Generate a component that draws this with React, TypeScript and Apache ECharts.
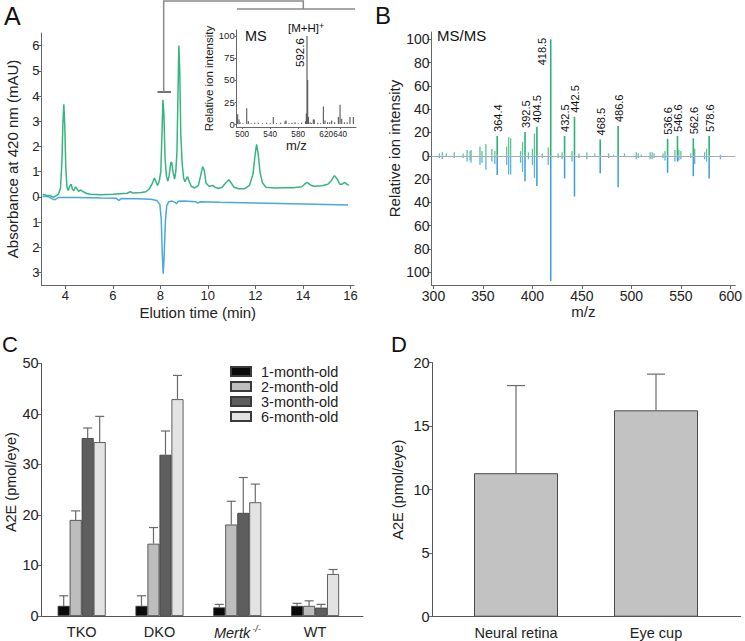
import React, { useEffect, useRef } from 'react';
import * as echarts from 'echarts';

const FONT = 'Liberation Sans, Arial, Helvetica, sans-serif';
const TXT = '#222';
const AX = '#666';

// ---------- Panel A: chromatograms ----------
const greenTime = [3.05, 3.2, 3.35, 3.5, 3.62, 3.72, 3.8, 3.86, 3.9, 3.94, 3.98, 4.02, 4.07, 4.12, 4.2, 4.25, 4.3, 4.36, 4.44, 4.5, 4.56, 4.65, 4.72, 4.8, 4.9, 5.05, 5.5, 6.0, 6.3, 6.6, 6.74, 6.85, 7.2, 7.4, 7.55, 7.65, 7.75, 7.82, 7.88, 7.95, 8.02, 8.07, 8.11, 8.15, 8.2, 8.26, 8.32, 8.38, 8.44, 8.48, 8.53, 8.6, 8.65, 8.7, 8.74, 8.78, 8.82, 8.86, 8.92, 8.98, 9.03, 9.1, 9.15, 9.22, 9.3, 9.45, 9.6, 9.7, 9.78, 9.85, 9.92, 10.05, 10.2, 10.3, 10.45, 10.6, 10.75, 10.88, 10.98, 11.1, 11.3, 11.55, 11.75, 11.9, 11.98, 12.05, 12.12, 12.2, 12.3, 12.45, 12.8, 13.2, 13.6, 13.95, 14.1, 14.18, 14.3, 14.45, 14.8, 15.05, 15.2, 15.33, 15.45, 15.55, 15.65, 15.75, 15.85, 15.93];
const greenAbs = [0.1, 0.06, 0.05, -0.02, 0.05, 0.12, 0.35, 1.4, 2.9, 3.67, 2.8, 1.2, 0.4, 0.25, 0.45, 0.5, 0.3, 0.24, 0.4, 0.3, 0.22, 0.27, 0.22, 0.18, 0.13, 0.1, 0.08, 0.1, 0.12, 0.14, 0.2, 0.15, 0.17, 0.2, 0.33, 0.5, 0.75, 0.6, 0.45, 0.6, 1.0, 2.5, 3.85, 3.3, 1.5, 0.8, 0.62, 0.9, 1.35, 1.38, 1.0, 0.7, 1.0, 1.8, 3.9, 6.0, 4.9, 2.5, 1.3, 0.75, 0.6, 0.72, 0.8, 0.6, 0.42, 0.35, 0.45, 0.85, 1.2, 1.05, 0.55, 0.42, 0.45, 0.38, 0.33, 0.38, 0.55, 0.68, 0.55, 0.38, 0.32, 0.32, 0.45, 0.9, 1.6, 2.08, 1.7, 0.95, 0.55, 0.38, 0.35, 0.36, 0.36, 0.4, 0.52, 0.57, 0.48, 0.42, 0.44, 0.5, 0.65, 0.84, 0.7, 0.5, 0.5, 0.57, 0.5, 0.45];
const blueTime = [3.05, 3.3, 3.45, 3.55, 3.7, 4.5, 5.5, 6.15, 6.25, 6.35, 7.0, 7.6, 7.85, 7.98, 8.04, 8.08, 8.12, 8.16, 8.21, 8.27, 8.35, 8.5, 8.62, 8.68, 8.75, 9.0, 9.5, 9.58, 9.66, 10.5, 12.0, 13.5, 15.0, 15.9];
const blueAbs = [0.02, 0.0, -0.08, -0.12, -0.03, -0.03, -0.05, -0.06, -0.15, -0.07, -0.08, -0.1, -0.15, -0.3, -0.9, -2.2, -3.05, -2.4, -1.0, -0.35, -0.2, -0.17, -0.22, -0.28, -0.18, -0.17, -0.2, -0.25, -0.2, -0.22, -0.25, -0.28, -0.31, -0.33];
const aXTicks = [4, 6, 8, 10, 12, 14, 16];
const aYTicks = [-3, -2, -1, 0, 1, 2, 3, 4, 5, 6];

// ---------- Panel A inset: MS ----------
const msMz = [493.6, 495.5, 497, 501, 506.5, 508.8, 513, 518, 523, 529, 535, 540, 544.5, 549, 555, 561.2, 562.6, 567, 571, 575.5, 580, 585, 590.6, 591.6, 592.6, 593.6, 594.6, 597, 599, 601.6, 603, 608, 612, 616, 618.3, 622, 625, 627.9, 632, 637.4, 639.8, 642.2, 646, 650, 654, 658.8];
const msInt = [11, 5, 2, 1, 18, 3, 1, 1.5, 1.5, 1, 1.5, 1, 8, 1, 1.5, 3, 4, 1, 1.5, 2, 1, 1.5, 3, 12, 100, 50, 8, 2, 1, 5, 5, 1.5, 1, 20, 4, 2, 2, 4, 2, 8, 22, 6, 2, 2, 8, 8];
const msXTicks = [500, 540, 580, 620, 640];
const msYTicks = [0, 25, 50, 75, 100];
const msLabelMz = 592.6;

// ---------- Panel B: MS/MS ----------
const msmsPeakMz = [364.4, 392.5, 404.5, 418.5, 432.5, 442.5, 468.5, 486.6, 536.6, 546.6, 562.6, 578.6];
const msmsPeakUp = [17, 20.5, 25, 100, 17, 33.5, 14, 25.5, 14.6, 17, 15, 17];
const msmsPeakDown = [16.6, 21.8, 26, 107.5, 19.5, 35, 15, 27, 14.6, 5, 17.5, 19.5];
const msmsMinorMz = [306, 309, 313, 321, 330, 334, 337, 338, 347, 349, 353, 359, 362, 374, 376, 378, 388, 390, 396, 400, 402, 410, 416, 426, 430, 440, 447, 455, 463, 477, 482, 493, 505, 507, 510, 519, 521, 523, 532, 534, 544, 548, 550, 560, 564, 574, 576, 590];
const msmsMinorUp = [2, 3, 2, 3, 2, 5, 4, 5, 8, 4, 10, 6, 4, 8, 16, 15, 4, 12, 3, 6, 19, 2, 7, 2, 3, 4, 2, 3, 2, 2, 1, 2, 3, 2, 1, 3, 3, 2, 2, 4, 5, 5, 4, 2, 6, 3, 6, 1];
const msmsMinorDown = [2, 3, 1, 2, 2, 5, 4, 6, 8, 6, 12, 5, 7, 8, 16, 16, 6, 14, 3, 8, 19, 2, 8, 2, 3, 5, 2, 3, 1, 2, 1, 1, 3, 2, 1, 3, 3, 2, 2, 4, 5, 4, 3, 2, 7, 3, 5, 3];
const bXTicks = [300, 350, 400, 450, 500, 550, 600];
const bYTicks = [-100, -80, -60, -40, -20, 0, 20, 40, 60, 80, 100];

// ---------- Panel C: A2E by genotype and age ----------
const genotypes = ['TKO', 'DKO', 'Mertk', 'WT'];
const ageNames = ['1-month-old', '2-month-old', '3-month-old', '6-month-old'];
const a2eMonth1 = [2.0, 2.0, 1.7, 2.0];
const a2eMonth1Top = [4.0, 4.0, 2.3, 2.5];
const a2eMonth2 = [19.0, 14.3, 18.1, 2.0];
const a2eMonth2Top = [20.8, 17.5, 22.7, 3.0];
const a2eMonth3 = [35.2, 31.9, 20.4, 1.65];
const a2eMonth3Top = [37.2, 36.6, 27.4, 2.3];
const a2eMonth6 = [34.4, 42.9, 22.5, 8.3];
const a2eMonth6Top = [39.5, 47.6, 26.1, 9.2];
const ageColors = ['#0a0a0a', '#bdbdbd', '#5e5e5e', '#e3e3e3'];

// ---------- Panel D: A2E by tissue ----------
const tissues = ['Neural retina', 'Eye cup'];
const tissueA2E = [11.3, 16.25];
const tissueA2ETop = [18.2, 19.1];

const zip = (a: number[], b: number[]) => a.map((v, i) => [v, b[i]]);

function stick(color: string, width: number) {
  return (_p: any, api: any) => {
    const x = api.value(0);
    const y = api.value(1);
    const p0 = api.coord([x, 0]);
    const p1 = api.coord([x, y]);
    return {
      type: 'line',
      shape: { x1: p0[0], y1: p0[1], x2: p1[0], y2: p1[1] },
      style: { stroke: color, lineWidth: width },
    };
  };
}

function errBar(offset: number, capHalf: number) {
  return (_p: any, api: any) => {
    const i = api.value(0);
    const v = api.value(1);
    const t = api.value(2);
    const p = api.coord([i, v]);
    const q = api.coord([i, t]);
    const x = p[0] + offset;
    const st = { stroke: '#6a6a6a', lineWidth: 1.2 };
    return {
      type: 'group',
      children: [
        { type: 'line', shape: { x1: x, y1: p[1], x2: x, y2: q[1] }, style: st },
        { type: 'line', shape: { x1: x - capHalf, y1: q[1], x2: x + capHalf, y2: q[1] }, style: st },
      ],
    };
  };
}

const absFmt = (v: number) => String(Math.abs(v));

function valAxis(extra: any) {
  const base: any = {
    type: 'value',
    splitLine: { show: false },
    axisLine: { show: true, onZero: false, lineStyle: { color: AX, width: 1 } },
    axisTick: { show: true, length: 4, lineStyle: { color: AX } },
    axisLabel: { color: TXT, fontFamily: FONT, fontSize: 13, margin: 3, hideOverlap: false },
    nameLocation: 'middle',
    nameTextStyle: { color: TXT, fontFamily: FONT, fontSize: 15 },
  };
  const out: any = { ...base, ...extra };
  out.axisLine = { ...base.axisLine, ...(extra.axisLine || {}) };
  out.axisTick = { ...base.axisTick, ...(extra.axisTick || {}) };
  out.axisLabel = { ...base.axisLabel, ...(extra.axisLabel || {}) };
  out.nameTextStyle = { ...base.nameTextStyle, ...(extra.nameTextStyle || {}) };
  return out;
}

export default function App() {
  const ref = useRef<HTMLDivElement>(null);
  useEffect(() => {
    if (!ref.current) return;
    const chart = echarts.init(ref.current, undefined, { renderer: 'svg' });

    const monthVals = [a2eMonth1, a2eMonth2, a2eMonth3, a2eMonth6];
    const monthTops = [a2eMonth1Top, a2eMonth2Top, a2eMonth3Top, a2eMonth6Top];
    const barW = 12;

    const option: any = {
      animation: false,
      backgroundColor: '#fff',
      textStyle: { fontFamily: FONT },
      grid: [
        { left: 41.5, top: 33, width: 312.5, height: 252 },
        { left: 236.7, top: 30, width: 119.3, height: 97 },
        { left: 431.5, top: 32, width: 307, height: 253 },
        { left: 41.7, top: 363.3, width: 321.3, height: 252.7 },
        { left: 432.7, top: 362.7, width: 308, height: 254 },
      ],
      xAxis: [
        valAxis({
          gridIndex: 0, min: 3, max: 16.15,
          axisTick: { customValues: aXTicks },
          axisLabel: { customValues: aXTicks, margin: 4 },
          name: 'Elution time (min)', nameGap: 20,
        }),
        valAxis({
          gridIndex: 1, min: 492.2, max: 662.6,
          axisTick: { customValues: msXTicks, length: 2 },
          axisLabel: { customValues: msXTicks, fontSize: 8.2, margin: 3, showMinLabel: true, showMaxLabel: true },
          name: 'm/z', nameGap: 10, nameTextStyle: { fontSize: 13 },
        }),
        valAxis({
          gridIndex: 2, min: 298, max: 605,
          axisTick: { customValues: bXTicks },
          axisLabel: { customValues: bXTicks, fontSize: 14, margin: 4 },
          name: 'm/z', nameGap: 19,
        }),
        valAxis({
          gridIndex: 3, min: -0.514, max: 3.616,
          axisTick: { show: false },
          axisLabel: {
            customValues: [0, 1, 2, 3], fontSize: 14.5, margin: 8,
            formatter: (v: number) => (v === 2 ? '{it|Mertk}{sp|-/-}' : genotypes[v]),
            rich: {
              it: { fontStyle: 'italic', fontSize: 14.5, fontFamily: FONT, color: TXT, lineHeight: 18 },
              sp: { fontStyle: 'italic', fontSize: 9, fontFamily: FONT, color: TXT, verticalAlign: 'top', lineHeight: 18, padding: [0, 0, 0, 2] },
            },
          },
          axisLine: { lineStyle: { color: '#555' } },
        }),
        valAxis({
          gridIndex: 4, min: -0.595, max: 1.605,
          axisTick: { show: false },
          axisLabel: { customValues: [0, 1], fontSize: 14.5, margin: 9, formatter: (v: number) => tissues[v] },
          axisLine: { lineStyle: { color: '#555' } },
        }),
      ],
      yAxis: [
        valAxis({
          gridIndex: 0, min: -3.5, max: 6.5,
          axisTick: { customValues: aYTicks },
          axisLabel: { customValues: aYTicks, formatter: absFmt, margin: 2 },
          name: 'Absorbance at 420 nm (mAU)', nameGap: 22,
        }),
        valAxis({
          gridIndex: 1, min: -3.4, max: 106.8,
          axisTick: { customValues: msYTicks, length: 2 },
          axisLabel: { customValues: msYTicks, fontSize: 9.5, margin: 2 },
          name: 'Relative ion intensity', nameGap: 18, nameTextStyle: { fontSize: 11.5 },
        }),
        valAxis({
          gridIndex: 2, min: -111, max: 106.3,
          axisTick: { customValues: bYTicks },
          axisLabel: { customValues: bYTicks, formatter: absFmt, fontSize: 14, margin: 2 },
          name: 'Relative ion intensity', nameGap: 29, nameTextStyle: { padding: [0, 0, 0, 20] },
        }),
        valAxis({
          gridIndex: 3, min: 0, max: 50, interval: 10,
          axisLabel: { fontSize: 14.5, margin: 3 },
          axisLine: { lineStyle: { color: '#555' } },
          name: 'A2E (pmol/eye)', nameGap: 16, nameTextStyle: { fontSize: 14.5, padding: [0, 0, 0, 15] },
        }),
        valAxis({
          gridIndex: 4, min: 0, max: 20, interval: 5,
          axisLabel: { fontSize: 14.5, margin: 3 },
          axisLine: { lineStyle: { color: '#555' } },
          name: 'A2E (pmol/eye)', nameGap: 27, nameTextStyle: { fontSize: 14.5 },
        }),
      ],
      legend: {
        data: ageNames,
        orient: 'vertical',
        left: 230,
        top: 364,
        padding: 0,
        itemWidth: 20,
        itemHeight: 9,
        itemGap: 0,
        icon: 'rect',
        selectedMode: false,
        textStyle: { fontSize: 14.5, color: TXT, fontFamily: FONT, padding: [0, 0, 0, 5], lineHeight: 15 },
      },
      graphic: [
        { type: 'text', left: 4, top: 3, style: { text: 'A', fontSize: 25, fontFamily: FONT, fill: '#111' } },
        { type: 'text', left: 375, top: 3, style: { text: 'B', fontSize: 24, fontFamily: FONT, fill: '#111' } },
        { type: 'text', left: 2, top: 333, style: { text: 'C', fontSize: 22, fontFamily: FONT, fill: '#111' } },
        { type: 'text', left: 391, top: 333, style: { text: 'D', fontSize: 22, fontFamily: FONT, fill: '#111' } },
        { type: 'text', left: 245, top: 28, style: { text: 'MS', fontSize: 14.5, fontFamily: FONT, fill: '#111' } },
        { type: 'text', left: 437, top: 28, style: { text: 'MS/MS', fontSize: 15, fontFamily: FONT, fill: '#111' } },
        {
          type: 'text', left: 288, top: 21,
          style: {
            text: '{a|[M+H]}{b|+}', fontFamily: FONT, fill: '#111',
            rich: {
              a: { fontSize: 11.5, fontFamily: FONT, lineHeight: 14 },
              b: { fontSize: 9, fontFamily: FONT, verticalAlign: 'top', lineHeight: 14 },
            },
          },
        },
        // bracket linking the 8.1 min peak to the MS inset
        { type: 'line', shape: { x1: 157.5, y1: 92, x2: 171, y2: 92 }, style: { stroke: '#444', lineWidth: 1.5 } },
        { type: 'polyline', shape: { points: [[163.7, 92], [163.7, 1], [303.3, 1], [303.3, 9]] }, style: { stroke: '#8a8a8a', lineWidth: 1.5, fill: 'none' } },
        { type: 'line', shape: { x1: 237, y1: 9, x2: 355, y2: 9 }, style: { stroke: '#8a8a8a', lineWidth: 1.5 } },
      ],
      series: [
        {
          type: 'line', xAxisIndex: 0, yAxisIndex: 0, data: zip(greenTime, greenAbs),
          showSymbol: false, lineStyle: { color: '#36b582', width: 1.5 }, z: 3,
        },
        {
          type: 'line', xAxisIndex: 0, yAxisIndex: 0, data: zip(blueTime, blueAbs),
          showSymbol: false, lineStyle: { color: '#48a9de', width: 1.5 }, z: 2,
        },
        {
          type: 'custom', xAxisIndex: 1, yAxisIndex: 1, data: zip(msMz, msInt),
          renderItem: (p: any, api: any) => {
            const x = api.value(0);
            const y = api.value(1);
            const p0 = api.coord([x, 0]);
            const p1 = api.coord([x, y]);
            const children: any[] = [
              { type: 'line', shape: { x1: p0[0], y1: p0[1], x2: p1[0], y2: p1[1] }, style: { stroke: '#555', lineWidth: 1.1 } },
            ];
            if (x === msLabelMz) {
              children.push({
                type: 'text', x: p1[0] - 7, y: p1[1] + 31, rotation: Math.PI / 2,
                style: { text: x.toFixed(1), fontSize: 11.5, fontFamily: FONT, fill: '#111', align: 'left', verticalAlign: 'middle' },
              });
            }
            return { type: 'group', children };
          },
        },
        {
          type: 'custom', xAxisIndex: 2, yAxisIndex: 2, data: zip(msmsMinorMz, msmsMinorUp),
          renderItem: stick('#5cc495', 1.3), z: 2,
        },
        {
          type: 'custom', xAxisIndex: 2, yAxisIndex: 2, data: zip(msmsMinorMz, msmsMinorDown.map((v) => -v)),
          renderItem: stick('#5ab4e4', 1.3), z: 2,
        },
        {
          type: 'custom', xAxisIndex: 2, yAxisIndex: 2, data: zip(msmsPeakMz, msmsPeakDown.map((v) => -v)),
          renderItem: stick('#3a9fd8', 1.5), z: 3,
        },
        {
          type: 'custom', xAxisIndex: 2, yAxisIndex: 2, data: zip(msmsPeakMz, msmsPeakUp),
          renderItem: (p: any, api: any) => {
            const x = api.value(0);
            const y = api.value(1);
            const p0 = api.coord([x, 0]);
            const p1 = api.coord([x, y]);
            const tall = y >= 90;
            return {
              type: 'group',
              children: [
                { type: 'line', shape: { x1: p0[0], y1: p0[1], x2: p1[0], y2: p1[1] }, style: { stroke: '#2fb07a', lineWidth: 1.6 } },
                {
                  type: 'text', x: tall ? p1[0] - 8.5 : p1[0] + 0.5, y: tall ? p1[1] + 26 : p1[1] - 4, rotation: Math.PI / 2,
                  style: { text: x.toFixed(1), fontSize: 11, fontFamily: FONT, fill: '#111', align: 'left', verticalAlign: 'middle' },
                },
              ],
            };
          },
          markLine: {
            silent: true, symbol: 'none', label: { show: false },
            lineStyle: { color: '#aaa', width: 1, type: 'solid' },
            data: [{ yAxis: 0 }],
          },
          z: 4,
        },
        ...ageNames.map((name, k) => ({
          type: 'bar', name, xAxisIndex: 3, yAxisIndex: 3,
          data: zip([0, 1, 2, 3], monthVals[k]),
          barWidth: barW, barGap: '0%',
          itemStyle: { color: ageColors[k], borderColor: '#3a3a3a', borderWidth: 0.8 },
        })),
        ...ageNames.map((name, k) => ({
          type: 'custom', name: name + ' error', xAxisIndex: 3, yAxisIndex: 3,
          data: [0, 1, 2, 3].map((i) => [i, monthVals[k][i], monthTops[k][i]]),
          encode: { x: 0, y: 1 },
          renderItem: errBar((k - 1.5) * barW, 4.5), z: 4,
        })),
        {
          type: 'bar', name: 'tissue', xAxisIndex: 4, yAxisIndex: 4,
          data: zip([0, 1], tissueA2E), barWidth: 84,
          itemStyle: { color: '#c2c2c2', borderColor: '#4a4a4a', borderWidth: 1 },
        },
        {
          type: 'custom', name: 'tissue error', xAxisIndex: 4, yAxisIndex: 4,
          data: [0, 1].map((i) => [i, tissueA2E[i], tissueA2ETop[i]]),
          encode: { x: 0, y: 1 },
          renderItem: errBar(0, 9), z: 4,
        },
      ],
    };
    chart.setOption(option);
    return () => chart.dispose();
  }, []);
  return (
    <div
      ref={ref}
      style={{ position: 'absolute', left: 0, top: 0, width: 745, height: 641, background: '#fff' }}
    />
  );
}
